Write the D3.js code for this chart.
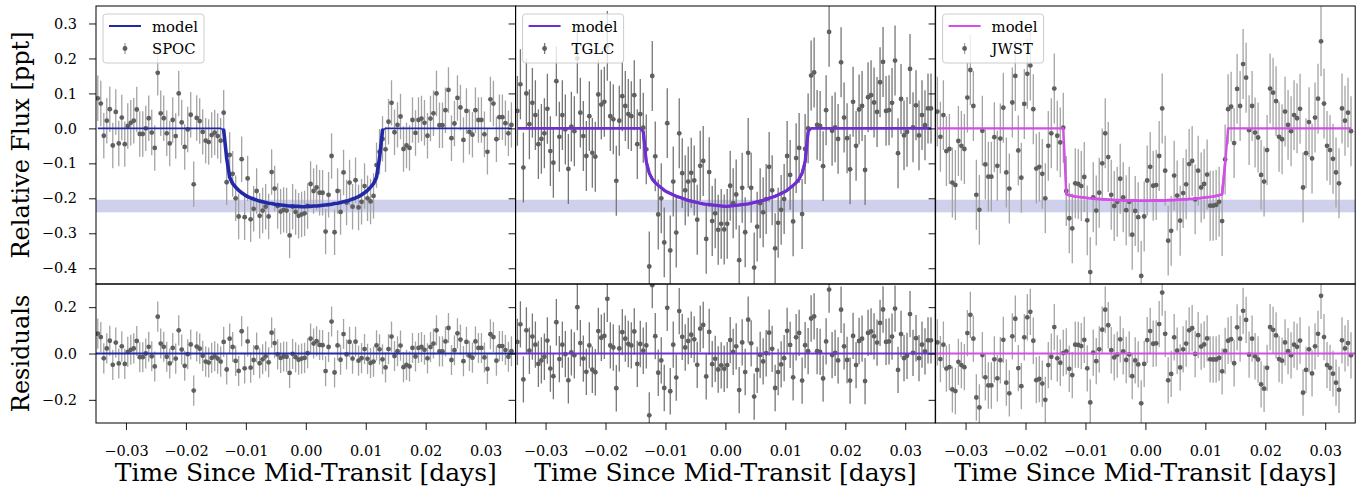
<!DOCTYPE html>
<html>
<head>
<meta charset="utf-8">
<script src="https://cdn.jsdelivr.net/npm/d3@7"></script>
<style>
  body { margin: 0; background: #fff; }
  svg { display: block; font-family: "DejaVu Serif", serif; }
</style>
</head>
<body>
<div id="container"></div>
<script>
// time since mid-transit [days], shared by the three light curves
const time = [
  -0.0347,-0.0342,-0.0337,-0.0332,-0.0327,-0.0322,-0.0317,-0.0312,-0.0307,-0.0302,
  -0.0297,-0.0292,-0.0287,-0.0282,-0.0277,-0.0272,-0.0267,-0.0262,-0.0257,-0.0252,
  -0.0247,-0.0242,-0.0237,-0.0232,-0.0227,-0.0222,-0.0217,-0.0212,-0.0207,-0.0202,
  -0.0197,-0.0192,-0.0187,-0.0182,-0.0177,-0.0172,-0.0167,-0.0162,-0.0157,-0.0152,
  -0.0147,-0.0142,-0.0137,-0.0132,-0.0127,-0.0122,-0.0117,-0.0112,-0.0107,-0.0102,
  -0.0097,-0.0092,-0.0087,-0.0082,-0.0077,-0.0072,-0.0067,-0.0062,-0.0057,-0.0052,
  -0.0047,-0.0042,-0.0037,-0.0032,-0.0027,-0.0022,-0.0017,-0.0012,-0.0007,-0.0002,
  0.0003,0.0008,0.0013,0.0018,0.0023,0.0028,0.0033,0.0038,0.0043,0.0048,
  0.0053,0.0058,0.0063,0.0068,0.0073,0.0078,0.0083,0.0088,0.0093,0.0098,
  0.0103,0.0108,0.0113,0.0118,0.0123,0.0128,0.0133,0.0138,0.0143,0.0148,
  0.0153,0.0158,0.0163,0.0168,0.0173,0.0178,0.0183,0.0188,0.0193,0.0198,
  0.0203,0.0208,0.0213,0.0218,0.0223,0.0228,0.0233,0.0238,0.0243,0.0248,
  0.0253,0.0258,0.0263,0.0268,0.0273,0.0278,0.0283,0.0288,0.0293,0.0298,
  0.0303,0.0308,0.0313,0.0318,0.0323,0.0328,0.0333,0.0338,0.0343
]

const spocFlux = [
  0.086,0.071,-0.021,0.022,0.055,-0.049,0.047,-0.043,0.031,-0.045,
  0.007,0.016,0.022,0.054,-0.016,-0.016,0.0,0.029,-0.012,-0.056,
  0.159,0.043,0.029,-0.014,-0.043,0.024,-0.022,0.10,0.017,-0.053,
  -0.003,0.039,-0.16,0.030,0.021,-0.01,-0.035,-0.039,-0.019,-0.012,
  -0.022,-0.035,0.045,-0.154,-0.076,-0.13,-0.2,-0.252,-0.088,-0.254,
  -0.143,-0.26,-0.23,-0.179,-0.25,-0.235,-0.224,-0.252,-0.125,-0.172,
  -0.222,-0.238,-0.233,-0.235,-0.306,-0.224,-0.239,-0.25,-0.246,-0.243,
  -0.222,-0.159,-0.179,-0.169,-0.184,-0.184,-0.295,-0.19,-0.079,-0.297,
  -0.179,-0.239,-0.126,-0.212,-0.155,-0.224,-0.148,-0.226,-0.21,-0.165,
  -0.2,-0.209,-0.193,-0.105,-0.067,-0.03,-0.06,0.019,0.073,-0.011,
  0.01,0.034,-0.059,-0.049,-0.056,0.024,-0.013,0.024,0.028,0.016,
  -0.021,0.028,0.043,0.10,0.009,0.009,0.052,0.11,-0.028,0.014,
  0.087,0.06,-0.033,0.05,-0.01,-0.018,0.052,0.024,0.024,-0.017,
  -0.067,0.083,0.071,-0.031,0.032,0.032,0.015,-0.014,0.01
]
const spocModel = [
  0,0,0,0,0,0,0,0,0,0, 0,0,0,0,0,0,0,0,0,0, 0,0,0,0,0,0,0,0,0,0,
  0,0,0,0,0,0,0,0,0,0, 0,0,
  -0.005,-0.085,-0.14,-0.158,-0.168,-0.177,-0.184,-0.19,-0.195,-0.199,
  -0.202,-0.205,-0.208,-0.21,-0.212,-0.214,-0.215,-0.217,-0.218,-0.219,
  -0.22,-0.221,-0.222,-0.222,-0.223,-0.223,-0.224,
  -0.224,-0.223,-0.223,-0.222,-0.222,-0.221,-0.22,-0.219,-0.218,-0.217,
  -0.215,-0.214,-0.212,-0.21,-0.208,-0.205,-0.202,-0.199,-0.195,-0.19,
  -0.184,-0.177,-0.168,-0.158,-0.14,-0.085,-0.005,
  0,0,0,0,0,0,0,0,0,0, 0,0,0,0,0,0,0,0,0,0, 0,0,0,0,0,0,0,0,0,0,
  0,0,0,0,0,0,0,0,0,0, 0,0,0
]

const tglcFlux = [
  0.05,0.126,-0.112,0.1,0.012,0.073,0.038,-0.045,-0.03,-0.014,
  0.056,-0.065,-0.098,0.135,-0.024,0.038,-0.003,-0.116,0.005,-0.008,
  0.2,0.045,-0.022,-0.079,0.035,-0.07,-0.081,0.097,0.068,0.076,
  0.236,0.035,0.026,-0.15,0.022,0.092,0.064,0.041,0.035,0.095,
  -0.045,0.041,0.002,-0.06,-0.395,0.15,-0.08,-0.246,-0.2,-0.326,
  0.015,-0.349,-0.152,-0.298,-0.014,-0.128,-0.177,-0.152,-0.127,-0.149,
  -0.261,-0.107,-0.093,-0.316,-0.125,-0.265,-0.243,-0.29,-0.273,-0.289,
  -0.273,-0.164,-0.214,-0.189,-0.377,-0.17,-0.297,-0.07,-0.17,-0.398,
  -0.281,-0.214,-0.24,-0.202,-0.11,-0.177,-0.343,-0.27,-0.233,-0.202,
  -0.079,-0.133,-0.266,-0.085,-0.056,-0.245,-0.059,0.0,0.151,0.16,
  0.01,0.007,-0.108,0.052,0.276,-0.007,0.003,-0.03,0.189,0.031,
  -0.028,-0.117,0.076,-0.05,0.054,0.064,-0.119,0.089,0.095,0.074,
  0.047,0.132,0.19,0.05,0.052,0.073,0.194,-0.071,0.084,-0.02,
  -0.01,0.17,0.003,0.066,-0.02,0.038,0.009,0.057,0.057
]
const tglcModel = [
  0,0,0,0,0,0,0,0,0,0, 0,0,0,0,0,0,0,0,0,0, 0,0,0,0,0,0,0,0,0,0,
  0,0,0,0,0,0,0,0,0,0, 0,0,
  -0.01,-0.095,-0.128,-0.145,-0.155,-0.163,-0.17,-0.177,-0.182,-0.186,
  -0.19,-0.194,-0.197,-0.2,-0.203,-0.206,-0.208,-0.21,-0.212,-0.214,
  -0.216,-0.217,-0.218,-0.219,-0.22,-0.221,-0.222,-0.223,
  -0.223,-0.222,-0.221,-0.22,-0.219,-0.218,-0.217,-0.216,-0.214,-0.212,
  -0.21,-0.208,-0.206,-0.203,-0.2,-0.197,-0.194,-0.19,-0.186,-0.182,
  -0.177,-0.17,-0.163,-0.155,-0.145,-0.128,-0.095,-0.01,
  0,0,0,0,0,0,0,0,0,0, 0,0,0,0,0,0,0,0,0,0, 0,0,0,0,0,0,0,0,0,0,
  0,0,0,0,0,0,0,0,0,0, 0
]

const jwstFlux = [
  0.048,-0.024,0.038,-0.065,-0.059,-0.155,-0.162,-0.036,-0.05,-0.059,
  0.088,0.167,0.064,-0.19,-0.233,-0.007,-0.103,-0.138,-0.138,-0.025,
  -0.107,-0.029,0.059,-0.126,-0.172,0.074,0.15,-0.063,-0.141,0.07,
  0.156,0.18,0.055,-0.115,-0.11,-0.13,-0.2,-0.05,-0.014,0.114,
  -0.021,-0.04,0.002,-0.179,-0.257,-0.286,-0.157,-0.159,-0.165,-0.139,
  -0.263,-0.411,-0.197,-0.235,-0.184,-0.1,-0.014,-0.082,-0.19,-0.222,
  -0.21,-0.144,-0.197,-0.234,-0.21,-0.304,-0.236,-0.254,-0.422,-0.252,
  -0.149,-0.11,-0.164,-0.162,-0.079,0.057,-0.121,-0.321,-0.293,-0.135,
  -0.192,-0.264,-0.185,-0.16,-0.102,-0.093,-0.203,-0.121,-0.169,-0.159,
  -0.132,-0.221,-0.221,-0.219,-0.21,-0.265,-0.089,0.055,0.062,-0.042,
  0.113,0.064,0.184,0.145,-0.005,0.064,-0.012,-0.026,-0.133,-0.152,
  -0.062,0.114,0.102,0.078,-0.024,-0.031,0.048,0.01,-0.008,0.038,
  0.029,0.056,-0.169,-0.071,0.018,-0.086,0.031,0.085,0.249,0.071,
  -0.05,-0.062,-0.087,-0.126,-0.157,0.057,0.022,0.045,-0.008
]
const jwstModel = [
  0,0,0,0,0,0,0,0,0,0, 0,0,0,0,0,0,0,0,0,0, 0,0,0,0,0,0,0,0,0,0,
  0,0,0,0,0,0,0,0,0,0, 0,0,0,
  -0.188,-0.191,-0.193,-0.195,-0.196,-0.197,-0.198,-0.199,-0.2,-0.201,
  -0.202,-0.202,-0.203,-0.203,-0.204,-0.204,-0.205,-0.205,-0.205,-0.206,
  -0.206,-0.206,-0.206,-0.206,-0.207,-0.207,-0.207,-0.207,-0.207,-0.206,
  -0.206,-0.206,-0.206,-0.206,-0.205,-0.205,-0.205,-0.204,-0.204,-0.203,
  -0.203,-0.202,-0.202,-0.201,-0.2,-0.199,-0.198,-0.197,-0.196,-0.195,
  -0.193,-0.191,-0.188,-0.1,
  0,0,0,0,0,0,0,0,0,0, 0,0,0,0,0,0,0,0,0,0, 0,0,0,0,0,0,0,0,0,0,
  0,0,0,0,0,0,0,0,0,0, 0,0
]

const instruments = ["SPOC", "TGLC", "JWST"]
const fluxErr = [0.065, 0.1, 0.1]
const depthBand = [-0.240, -0.204]
const xTicks = [-0.03, -0.02, -0.01, 0.0, 0.01, 0.02, 0.03]
const yTicksTop = [-0.4, -0.3, -0.2, -0.1, 0.0, 0.1, 0.2, 0.3]
const yTicksRes = [-0.2, 0.0, 0.2]

const fluxes = [spocFlux, tglcFlux, jwstFlux]
const models = [spocModel, tglcModel, jwstModel]

// styling
const modelColor = ["#2229a8", "#6f2fd0", "#d44ee8"]
const barColor = ["#a4a4a4", "#767676", "#a4a4a4"]
const lineWidth = [1.7, 2.6, 2.4]
const transitWidth = [3.6, 3.2, 2.6]
const dotColor = "#5f5f5f"

const width = 1361, height = 487
const panelLeft = [96, 515.6, 935.6]
const panelW = 419.6
const topY0 = 6, topY1 = 284, resY1 = 423

const svg = d3.select("#container").append("svg")
  .attr("width", width)
  .attr("height", height)

const defs = svg.append("defs")

const panels = instruments.map((name, p) => {
  const L = panelLeft[p]
  const x = d3.scaleLinear().domain([-0.035, 0.035]).range([L, L + panelW])
  const yTop = d3.scaleLinear().domain([-0.445, 0.35]).range([topY1, topY0])
  const yRes = d3.scaleLinear().domain([-0.3, 0.3]).range([resY1, topY1])
  const data = time.map((t, i) => ({
    t: t,
    f: fluxes[p][i],
    m: models[p][i],
    r: fluxes[p][i] - models[p][i]
  }))
  return { name, p, L, x, yTop, yRes, data }
})

panels.forEach(({ name, p, L, x, yTop, yRes, data }) => {
  defs.append("clipPath").attr("id", "clipTop" + p)
    .append("rect").attr("x", L).attr("y", topY0).attr("width", panelW).attr("height", topY1 - topY0)
  defs.append("clipPath").attr("id", "clipRes" + p)
    .append("rect").attr("x", L).attr("y", topY1).attr("width", panelW).attr("height", resY1 - topY1)

  /* top panel: light curve */
  const top = svg.append("g").attr("clip-path", `url(#clipTop${p})`)

  top.append("rect")
    .attr("x", L)
    .attr("width", panelW)
    .attr("y", yTop(depthBand[1]))
    .attr("height", yTop(depthBand[0]) - yTop(depthBand[1]))
    .attr("fill", "#cfd1ec")

  top.selectAll("line.err")
    .data(data)
    .enter()
    .append("line")
    .attr("class", "err")
    .attr("x1", d => x(d.t)).attr("x2", d => x(d.t))
    .attr("y1", d => yTop(d.f + fluxErr[p]))
    .attr("y2", d => yTop(d.f - fluxErr[p]))
    .attr("stroke", barColor[p])
    .attr("stroke-width", 1.3)

  top.selectAll("circle")
    .data(data)
    .enter()
    .append("circle")
    .attr("cx", d => x(d.t))
    .attr("cy", d => yTop(d.f))
    .attr("r", 2.4)
    .attr("fill", dotColor)

  const modelLine = d3.line().x(d => x(d.t)).y(d => yTop(d.m))
  top.append("path")
    .attr("d", modelLine(data))
    .attr("fill", "none")
    .attr("stroke", modelColor[p])
    .attr("stroke-width", lineWidth[p])
    .attr("stroke-linejoin", "round")
  top.append("path")
    .attr("d", modelLine.defined(d => d.m < 0)(data))
    .attr("fill", "none")
    .attr("stroke", modelColor[p])
    .attr("stroke-width", transitWidth[p])
    .attr("stroke-linejoin", "round")
    .attr("stroke-linecap", "round")

  /* bottom panel: residuals */
  const res = svg.append("g").attr("clip-path", `url(#clipRes${p})`)

  res.selectAll("line.err")
    .data(data)
    .enter()
    .append("line")
    .attr("class", "err")
    .attr("x1", d => x(d.t)).attr("x2", d => x(d.t))
    .attr("y1", d => yRes(d.r + fluxErr[p]))
    .attr("y2", d => yRes(d.r - fluxErr[p]))
    .attr("stroke", barColor[p])
    .attr("stroke-width", 1.3)

  res.selectAll("circle")
    .data(data)
    .enter()
    .append("circle")
    .attr("cx", d => x(d.t))
    .attr("cy", d => yRes(d.r))
    .attr("r", 2.4)
    .attr("fill", dotColor)

  res.append("path")
    .attr("d", d3.line().x(d => x(d)).y(() => yRes(0))(x.domain()))
    .attr("stroke", modelColor[p])
    .attr("stroke-width", 2.2)

  /* legend */
  const lg = svg.append("g").attr("transform", `translate(${L + 7},14)`)
  lg.append("rect")
    .attr("width", 101).attr("height", 49)
    .attr("rx", 3)
    .attr("fill", "#fff").attr("fill-opacity", 0.8)
    .attr("stroke", "#cccccc")
  lg.append("line")
    .attr("x1", 6).attr("x2", 38).attr("y1", 12).attr("y2", 12)
    .attr("stroke", modelColor[p]).attr("stroke-width", 2)
  lg.append("line")
    .attr("x1", 22).attr("x2", 22).attr("y1", 29).attr("y2", 40)
    .attr("stroke", barColor[p]).attr("stroke-width", 1.3)
  lg.append("circle").attr("cx", 22).attr("cy", 34.5).attr("r", 2.4).attr("fill", dotColor)
  lg.append("text").attr("x", 49).attr("y", 17.5).attr("font-size", "14.8px").text("model")
  lg.append("text").attr("x", 49).attr("y", 39.5).attr("font-size", "14.8px").text(name)
})

/* axes + frames on top of everything */
panels.forEach(({ p, L, x, yTop, yRes }) => {
  const yAxTop = svg.append("g")
    .attr("transform", `translate(${L},0)`)
    .call(d3.axisLeft(yTop).tickValues(yTicksTop).tickSize(7).tickPadding(12)
      .tickFormat(p === 0 ? d3.format(".1f") : () => ""))
  const yAxRes = svg.append("g")
    .attr("transform", `translate(${L},0)`)
    .call(d3.axisLeft(yRes).tickValues(yTicksRes).tickSize(7).tickPadding(12)
      .tickFormat(p === 0 ? d3.format(".1f") : () => ""))
  const xAx = svg.append("g")
    .attr("transform", `translate(0,${resY1})`)
    .call(d3.axisBottom(x).tickValues(xTicks).tickSize(7).tickFormat(d3.format(".2f")))
  xAx.selectAll("text").attr("y", 33).attr("dy", null)

  ;[yAxTop, yAxRes, xAx].forEach(g => {
    g.attr("font-family", null).attr("font-size", null)
    g.select(".domain").remove()
    g.selectAll("text").attr("font-size", "14.5px").attr("fill", "#000")
    g.selectAll("line").attr("stroke", "#000").attr("stroke-width", 0.9)
  })

  svg.append("rect")
    .attr("x", L).attr("y", topY0).attr("width", panelW).attr("height", topY1 - topY0)
    .attr("fill", "none").attr("stroke", "#000").attr("stroke-width", 1)
  svg.append("rect")
    .attr("x", L).attr("y", topY1).attr("width", panelW).attr("height", resY1 - topY1)
    .attr("fill", "none").attr("stroke", "#000").attr("stroke-width", 1)

  svg.append("text")
    .attr("x", L + panelW / 2).attr("y", 481)
    .attr("text-anchor", "middle")
    .attr("font-size", "25px")
    .text("Time Since Mid-Transit [days]")
})

svg.append("text")
  .attr("transform", `translate(29,${(topY0 + topY1) / 2}) rotate(-90)`)
  .attr("text-anchor", "middle")
  .attr("font-size", "24px")
  .text("Relative Flux [ppt]")
svg.append("text")
  .attr("transform", `translate(29,${(topY1 + resY1) / 2}) rotate(-90)`)
  .attr("text-anchor", "middle")
  .attr("font-size", "24px")
  .text("Residuals")
</script>
</body>
</html>
